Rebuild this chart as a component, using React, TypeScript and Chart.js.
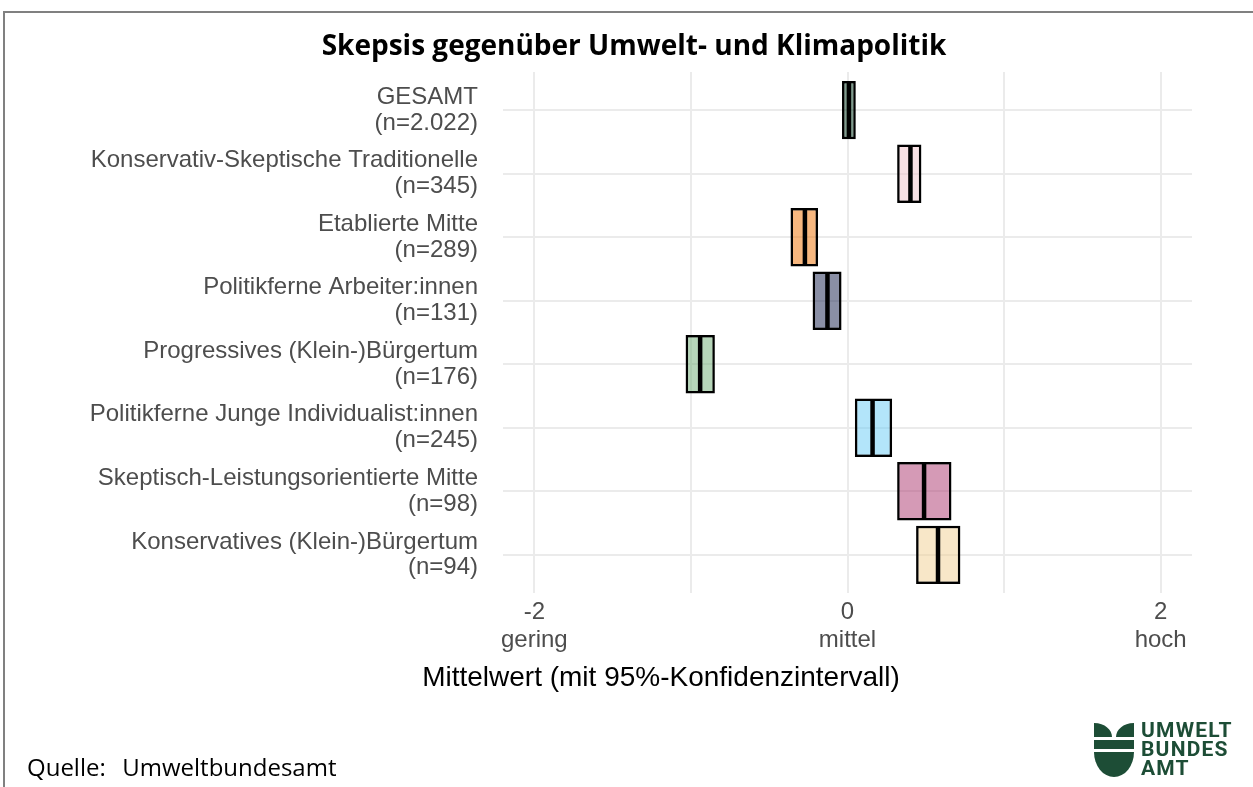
import React, { useEffect, useRef } from "react";
import { Chart, registerables } from "chart.js";

Chart.register(...registerables);

const groupNames = [
  "GESAMT",
  "Konservativ-Skeptische Traditionelle",
  "Etablierte Mitte",
  "Politikferne Arbeiter:innen",
  "Progressives (Klein-)Bürgertum",
  "Politikferne Junge Individualist:innen",
  "Skeptisch-Leistungsorientierte Mitte",
  "Konservatives (Klein-)Bürgertum",
];
const groupCounts = ["(n=2.022)", "(n=345)", "(n=289)", "(n=131)", "(n=176)", "(n=245)", "(n=98)", "(n=94)"];
const ciLow = [-0.035, 0.317, -0.364, -0.223, -1.034, 0.047, 0.317, 0.438];
const ciHigh = [0.053, 0.472, -0.188, -0.038, -0.847, 0.285, 0.664, 0.721];
const means = [0.009, 0.402, -0.272, -0.128, -0.941, 0.16, 0.489, 0.578];
const fillColors = [
  "rgba(1,57,29,0.5)",
  "rgba(241,195,201,0.5)",
  "rgba(239,111,0,0.5)",
  "rgba(21,31,75,0.5)",
  "rgba(109,173,115,0.5)",
  "rgba(103,203,245,0.5)",
  "rgba(171,53,109,0.5)",
  "rgba(241,207,145,0.5)",
];
const xTickValues = [-2, -1, 0, 1, 2];
const xTickTexts: Record<string, string[]> = {
  "-2": ["-2", "gering"],
  "0": ["0", "mittel"],
  "2": ["2", "hoch"],
};

const meanLinePlugin = {
  id: "meanLines",
  afterDatasetsDraw(chart: any) {
    const meta = chart.getDatasetMeta(0);
    const xs = chart.scales.x;
    const ctx = chart.ctx;
    ctx.save();
    meta.data.forEach((el: any, i: number) => {
      const px = xs.getPixelForValue(means[i]);
      const h = el.height;
      ctx.strokeStyle = "#000";
      ctx.lineWidth = 4.5;
      ctx.beginPath();
      ctx.moveTo(px, el.y - h / 2 + 1);
      ctx.lineTo(px, el.y + h / 2 - 1);
      ctx.stroke();
    });
    ctx.restore();
  },
};

export default function App() {
  const ref = useRef<HTMLCanvasElement | null>(null);
  useEffect(() => {
    if (!ref.current) return;
    const labelFont = "'Liberation Sans', Arial, sans-serif";
    const chart = new Chart(ref.current, {
      type: "bar",
      data: {
        datasets: [
          {
            data: groupNames.map((_, i) => ({ y: i, x: [ciLow[i], ciHigh[i]] })) as any,
            backgroundColor: fillColors,
            borderColor: "#000",
            borderWidth: 2.5,
            borderSkipped: false,
            barPercentage: 0.92,
            categoryPercentage: 1,
          },
        ],
      },
      options: {
        indexAxis: "y",
        animation: false,
        responsive: false,
        maintainAspectRatio: false,
        layout: { padding: { top: 72, right: 61, bottom: 94, left: 0 } },
        plugins: { legend: { display: false }, tooltip: { enabled: false }, title: { display: false } },
        scales: {
          y: {
            type: "linear",
            reverse: true,
            offset: false,
            min: -0.6,
            max: 7.6,
            afterBuildTicks: (scale: any) => {
              scale.ticks = groupNames.map((_, i) => ({ value: i }));
            },
            afterFit: (scale: any) => {
              scale.width = 503;
            },
            border: { display: false },
            grid: { color: "#ebebeb", lineWidth: 2, drawTicks: false, offset: false },
            ticks: {
              padding: 25,
              color: "#4d4d4d",
              font: { family: labelFont, size: 24, lineHeight: 1.08 },
              callback: (v: any) => [groupNames[v], groupCounts[v]],
            },
          },
          x: {
            type: "linear",
            min: -2.2,
            max: 2.2,
            afterBuildTicks: (scale: any) => {
              scale.ticks = xTickValues.map((v) => ({ value: v }));
            },
            afterFit: (scale: any) => {
              scale.height = 100;
            },
            border: { display: false },
            grid: { color: "#ebebeb", lineWidth: 2, drawTicks: false },
            ticks: {
              padding: 5,
              color: "#4d4d4d",
              maxRotation: 0,
              autoSkip: false,
              font: { family: labelFont, size: 24, lineHeight: 1.17 },
              callback: (v: any) => xTickTexts[String(v)] || "",
            },
          },
        },
      },
      plugins: [meanLinePlugin],
    });
    return () => chart.destroy();
  }, []);

  return (
    <div style={{ position: "fixed", left: 0, top: 0, width: 1253, height: 787, background: "#fff", overflow: "hidden" }}>
      <div style={{ position: "absolute", left: 3, top: 11, width: 1260, height: 800, borderTop: "2px solid #808080", borderLeft: "2px solid #808080" }} />
      <canvas ref={ref} width={1253} height={787} style={{ position: "absolute", left: 0, top: 0 }} />
      <div style={{ position: "absolute", left: 0, width: 1268, top: 24, textAlign: "center", fontFamily: "'Open Sans', sans-serif", fontWeight: 700, fontSize: 28, lineHeight: "40px", color: "#000" }}>
        Skepsis gegenüber Umwelt- und Klimapolitik
      </div>
      <div style={{ position: "absolute", left: 261, width: 800, top: 659, textAlign: "center", fontFamily: "'Liberation Sans', Arial, sans-serif", fontSize: 28, lineHeight: "36px", color: "#000" }}>
        Mittelwert (mit 95%-Konfidenzintervall)
      </div>
      <div style={{ position: "absolute", left: 27, top: 750, fontFamily: "'Open Sans', sans-serif", fontSize: 24, lineHeight: "34px", color: "#000", whiteSpace: "pre", wordSpacing: 2 }}>
        {"Quelle:  Umweltbundesamt"}
      </div>
      <svg style={{ position: "absolute", left: 0, top: 0 }} width={1253} height={787}>
        <g fill="#1d4d36">
          <path d="M1094,723 C1105,723 1112,730 1112,737 L1094,737 Z" />
          <path d="M1134,723 C1123,723 1116,730 1116,737 L1134,737 Z" />
          <rect x={1094} y={740} width={40} height={9} />
          <path d="M1094,752 L1134,752 A20,25 0 0 1 1094,752 Z" />
          <text x={1141} y={737} fontFamily="Roboto, sans-serif" fontWeight={700} fontSize={21} letterSpacing={1.2}>UMWELT</text>
          <text x={1141} y={756} fontFamily="Roboto, sans-serif" fontWeight={700} fontSize={21} letterSpacing={1.2}>BUNDES</text>
          <text x={1141} y={775} fontFamily="Roboto, sans-serif" fontWeight={700} fontSize={21} letterSpacing={1.2}>AMT</text>
        </g>
      </svg>
    </div>
  );
}
